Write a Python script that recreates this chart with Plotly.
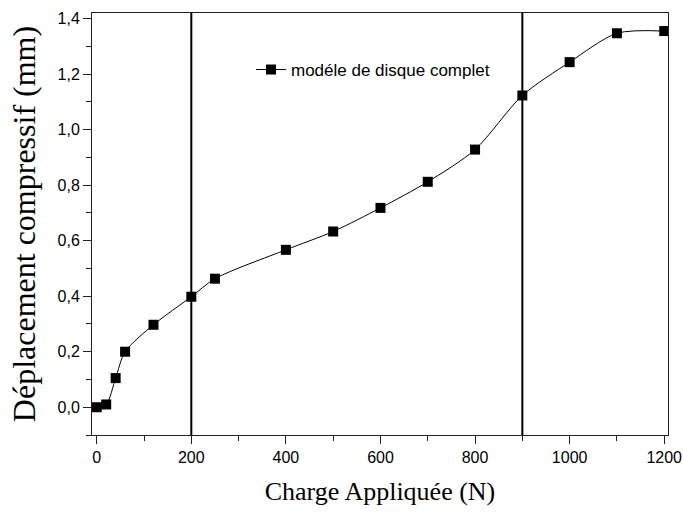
import plotly.graph_objects as go

charge = [0, 20, 40, 60, 120, 200, 250, 400, 500, 600, 700, 800, 900, 1000, 1100, 1200]
deplacement = [0.0, 0.01, 0.105, 0.2, 0.297, 0.398, 0.463, 0.567, 0.633, 0.718, 0.812, 0.928,
               1.123, 1.243, 1.347, 1.355]
vlines = [200, 900]
series_name = "modéle de disque complet"

fig = go.Figure()
fig.add_trace(go.Scatter(
    x=charge, y=deplacement, mode="lines+markers", name=series_name,
    line=dict(color="black", width=1, shape="spline", smoothing=0.8),
    marker=dict(symbol="square", size=10, color="black"),
    showlegend=True,
))
for v in vlines:
    fig.add_vline(x=v, line=dict(color="black", width=2))

axis_common = dict(
    showline=True, linecolor="#222", linewidth=1, mirror=True, automargin=False,
    showgrid=False, zeroline=False, ticks="outside", ticklen=8, tickwidth=1,
    tickcolor="#222",
    tickfont=dict(family="Arial, Liberation Sans", size=16, color="black"),
)

fig.update_xaxes(
    range=[-10, 1208], dtick=200, tick0=0,
    minor=dict(ticks="outside", dtick=100, ticklen=5, tickcolor="#222"),
    title=dict(text="Charge Appliquée (N)",
               font=dict(family="Times New Roman, Liberation Serif", size=26, color="black"),
               standoff=16),
    **axis_common,
)
fig.update_yaxes(
    range=[-0.1, 1.42], dtick=0.2, tick0=0, tickformat=".1f",
    minor=dict(ticks="outside", dtick=0.1, ticklen=5, tickcolor="#222"),
    title=dict(text="Déplacement compressif (mm)",
               font=dict(family="Times New Roman, Liberation Serif", size=32, color="black"),
               standoff=12),
    **axis_common,
)

fig.update_layout(
    width=683, height=513,
    margin=dict(l=92, r=15, t=13, b=78),
    plot_bgcolor="white", paper_bgcolor="white",
    separators=", ",
    legend=dict(x=0.276, y=0.865, xanchor="left", yanchor="middle",
                bgcolor="rgba(0,0,0,0)",
                font=dict(family="Arial, Liberation Sans", size=17, color="black")),
)

fig.write_html("out.html")
